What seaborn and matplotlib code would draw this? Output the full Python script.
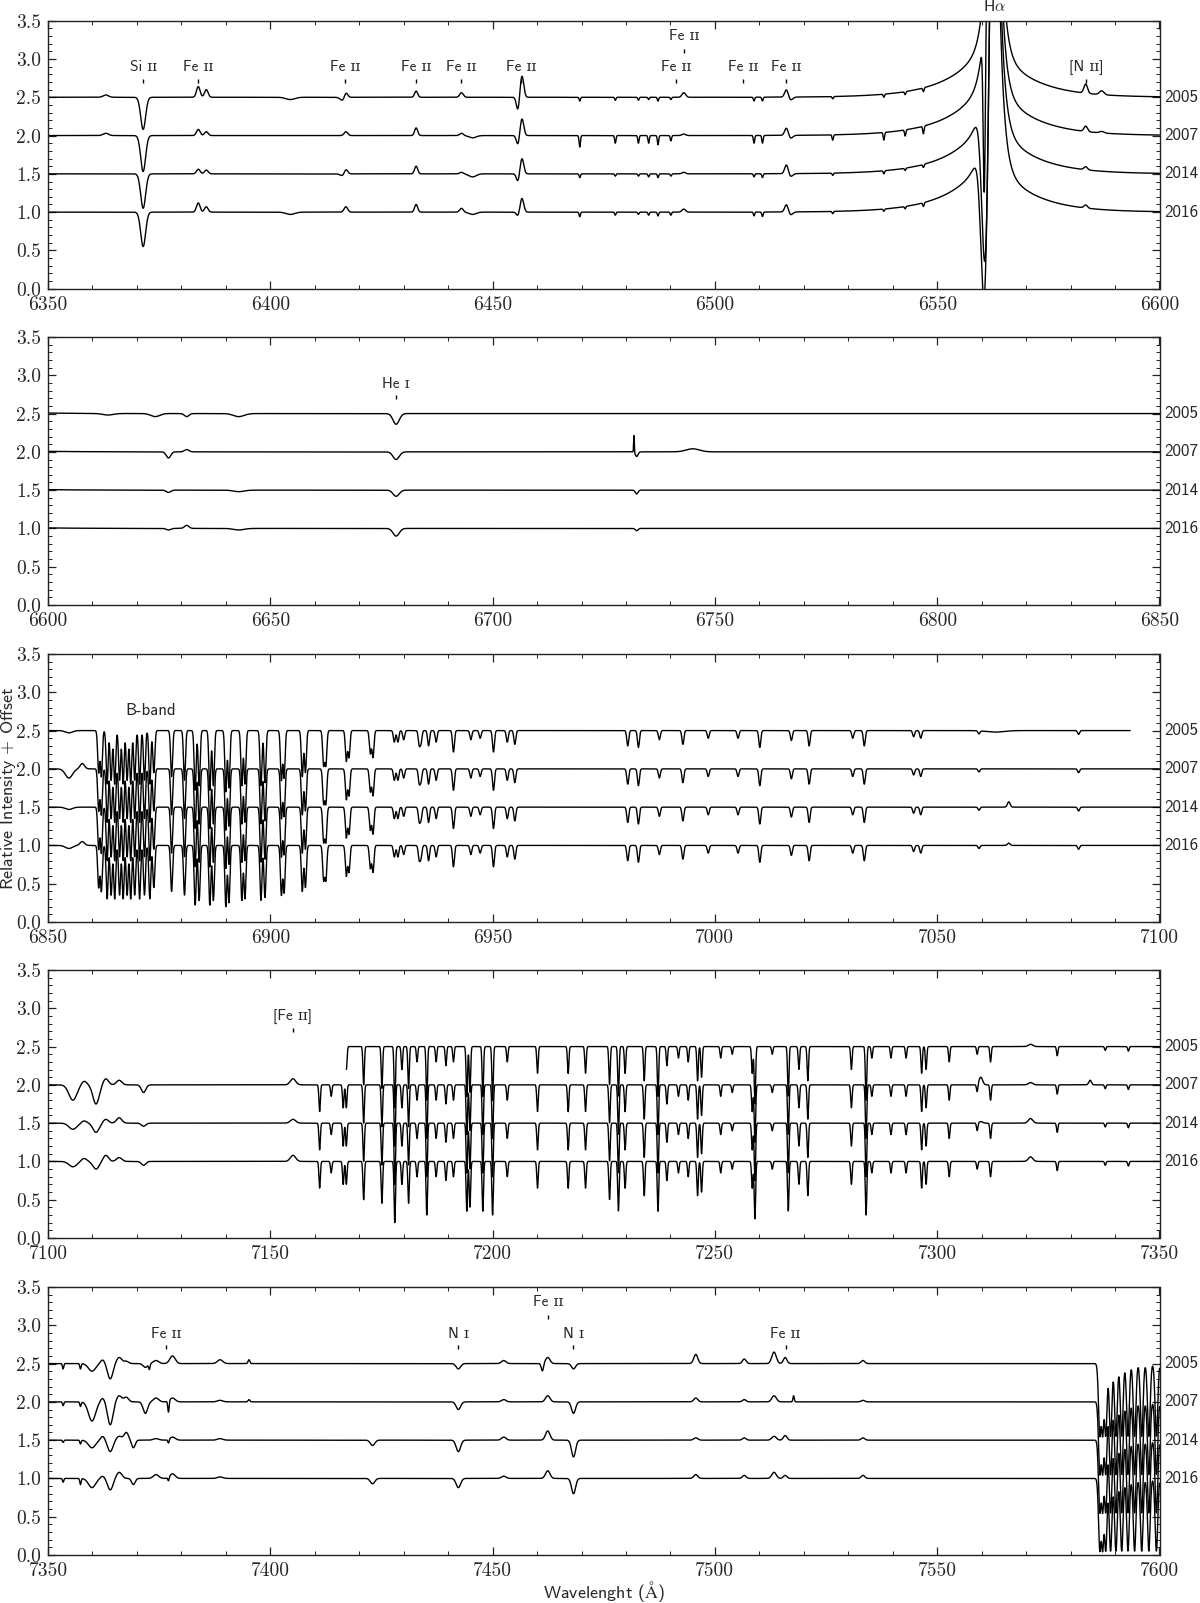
import numpy as np
import pandas as pd
import matplotlib
matplotlib.use("Agg")
import matplotlib.pyplot as plt
import matplotlib.transforms as mtransforms
from matplotlib.ticker import MultipleLocator, FormatStrFormatter
import seaborn as sns

YEARS = ["2005", "2007", "2014", "2016"]
OFFSETS = [2.5, 2.0, 1.5, 1.0]
PANEL_START = [6350, 6600, 6850, 7100, 7350]
PANEL_SPAN = 250
GAP_2005 = (7093.4, 7167.1)

# stellar / variable features: centre, sigma, amplitude per year (2005, 2007, 2014, 2016)
STAR_WL = [6363.0, 6371.4, 6383.8, 6385.6, 6404.5, 6416.4, 6417.0, 6432.8, 6443.0, 6445.5,
           6455.7, 6456.6, 6493.0, 6516.1, 6517.0, 6583.4, 6587.0,
           6469.6, 6477.6, 6482.8, 6485.1, 6487.2, 6490.1, 6508.8, 6510.7, 6526.5, 6538.0,
           6542.8, 6546.9,
           6613.5, 6624.1, 6627.1, 6631.2, 6642.9, 6678.3, 6731.8, 6732.4, 6745.0,
           6854.7, 6857.7, 7063.0, 7066.1,
           7105.6, 7108.1, 7110.8, 7113.0, 7116.0, 7121.5, 7155.1, 7309.8, 7321.0, 7334.4,
           7353.4, 7357.3, 7359.9, 7362.3, 7364.0, 7366.0, 7367.6, 7369.2, 7371.9, 7372.8,
           7374.3, 7377.1, 7378.0, 7388.7, 7395.2, 7423.0, 7442.3, 7452.5, 7461.2, 7462.4,
           7468.2, 7495.7, 7506.6, 7513.3, 7515.8, 7517.7, 7533.3]
STAR_SIGMA = [0.6, 0.55, 0.4, 0.4, 1.0, 0.6, 0.4, 0.35, 0.4, 0.8,
              0.35, 0.4, 0.4, 0.4, 0.5, 0.4, 0.5,
              0.15, 0.15, 0.15, 0.15, 0.15, 0.15, 0.15, 0.15, 0.15, 0.15,
              0.15, 0.15,
              1.2, 1.0, 0.5, 0.5, 1.2, 0.7, 0.08, 0.3, 1.5,
              0.8, 0.5, 2.0, 0.3,
              0.9, 0.6, 0.7, 0.6, 0.6, 0.5, 0.6, 0.4, 0.5, 0.3,
              0.15, 0.15, 0.8, 0.5, 0.6, 0.6, 0.5, 0.4, 0.5, 0.15,
              0.6, 0.15, 0.6, 0.6, 0.2, 0.5, 0.5, 0.5, 0.25, 0.5,
              0.45, 0.45, 0.4, 0.5, 0.4, 0.15, 0.4]
STAR_AMP = [[0.03, 0.03, 0.0, 0.0], [-0.42, -0.47, -0.45, -0.45], [0.14, 0.08, 0.06, 0.12],
            [0.10, 0.05, 0.05, 0.07], [-0.03, 0.0, 0.0, -0.03], [-0.05, 0.0, -0.03, 0.0],
            [0.08, 0.05, 0.07, 0.07], [0.08, 0.10, 0.10, 0.10], [0.06, 0.03, 0.02, 0.05],
            [0.0, -0.03, -0.04, -0.03], [-0.17, -0.12, -0.10, -0.05], [0.28, 0.22, 0.20, 0.18],
            [0.06, 0.02, 0.02, 0.04], [0.10, 0.10, 0.12, 0.10], [-0.04, -0.04, -0.04, -0.04],
            [0.12, 0.07, 0.04, 0.04], [0.05, 0.02, 0.0, 0.0],
            [-0.05, -0.15, -0.05, -0.06], [-0.04, -0.10, -0.03, -0.04], [-0.04, -0.10, -0.03, -0.03],
            [-0.03, -0.10, -0.04, -0.04], [-0.05, -0.12, -0.05, -0.05], [-0.03, -0.07, -0.03, -0.04],
            [-0.05, -0.10, -0.04, -0.05], [-0.05, -0.10, -0.05, -0.06], [-0.03, -0.07, -0.03, -0.03],
            [-0.04, -0.10, -0.04, -0.03], [-0.04, -0.08, -0.03, -0.03], [-0.05, -0.10, -0.04, -0.05],
            [-0.02, 0.0, 0.0, 0.0], [-0.04, 0.0, 0.0, 0.0], [0.0, -0.08, -0.03, -0.02],
            [-0.04, 0.03, 0.0, 0.04], [-0.04, 0.0, -0.02, -0.02], [-0.14, -0.10, -0.08, -0.10],
            [0.0, 0.22, 0.0, 0.0], [0.0, -0.06, -0.05, -0.03], [0.0, 0.04, 0.0, 0.0],
            [-0.03, -0.12, -0.03, -0.04], [0.0, 0.07, 0.0, 0.05], [-0.02, 0.0, 0.0, 0.0],
            [0.0, 0.0, 0.07, 0.03],
            [0.0, -0.20, -0.08, -0.07], [0.0, 0.05, 0.03, 0.04], [0.0, -0.25, -0.12, -0.10],
            [0.0, 0.08, 0.05, 0.08], [0.0, 0.06, 0.07, 0.05], [0.0, -0.10, -0.04, -0.05],
            [0.0, 0.08, 0.05, 0.08], [0.0, 0.10, 0.02, 0.0], [0.03, 0.03, 0.06, 0.06],
            [0.0, 0.06, 0.0, 0.0],
            [-0.07, -0.05, -0.03, -0.05], [-0.07, -0.06, -0.05, -0.08], [-0.10, -0.25, -0.10, -0.12],
            [0.05, 0.05, 0.05, 0.03], [-0.20, -0.30, -0.15, -0.15], [0.08, 0.08, 0.05, 0.08],
            [0.03, 0.06, 0.10, 0.0], [0.0, 0.0, -0.10, -0.08], [-0.05, -0.15, 0.0, 0.0],
            [-0.07, 0.0, 0.0, 0.0], [0.04, 0.05, 0.02, 0.05], [0.0, -0.15, -0.05, -0.05],
            [0.10, 0.05, 0.04, 0.06], [0.05, 0.02, 0.02, 0.02], [0.05, 0.03, 0.0, 0.0],
            [0.0, 0.0, -0.07, -0.07], [-0.07, -0.10, -0.15, -0.12], [0.04, 0.03, 0.04, 0.03],
            [-0.10, 0.0, 0.0, 0.0], [0.08, 0.08, 0.12, 0.10], [-0.07, -0.15, -0.22, -0.20],
            [0.12, 0.05, 0.03, 0.05], [0.06, 0.03, 0.03, 0.04], [0.15, 0.08, 0.05, 0.08],
            [0.08, 0.0, 0.06, 0.04], [0.0, 0.08, 0.0, 0.0], [0.04, 0.02, 0.03, 0.04]]

# H-alpha profile
HA_CENTER = 6562.8
HA_CORE = (8.0, 1.0)
HA_BLUE = (0.9, 8.0)
HA_RED = (0.7, 8.0)
HA_ABS_WL = [6561.0, 6560.6, 6560.9, 6560.7]
HA_ABS_SIGMA = [0.3, 0.25, 0.8, 0.8]
HA_ABS_DEPTH = [0.0, 2.3, 2.9, 2.7]

# telluric O2 B-band and nearby lines (relative depth)
BBAND_WL = [6861.4, 6862.0, 6863.3, 6864.2, 6865.0, 6866.1, 6866.9, 6867.8, 6868.6, 6869.5,
            6870.6, 6871.7, 6872.9, 6873.8, 6877.8, 6880.7, 6883.1, 6884.0, 6886.4, 6887.2,
            6890.0, 6890.7, 6893.6, 6894.3, 6897.9, 6898.8, 6902.5, 6903.1, 6907.2, 6907.9,
            6912.0, 6912.5, 6917.1, 6917.7, 6922.5, 6923.1, 6927.9, 6928.7, 6930.0, 6933.5,
            6933.9, 6935.6, 6937.3, 6941.2, 6945.1, 6947.2, 6950.2, 6953.3, 6955.0, 6980.4,
            6982.8, 6987.5, 6992.8, 6998.5, 7005.2, 7010.1, 7017.2, 7021.2, 7031.0, 7033.6,
            7044.7, 7046.3, 7059.4, 7081.8]
BBAND_DEPTH = [0.55, 0.6, 0.7, 0.65, 0.7, 0.65, 0.7, 0.65, 0.7, 0.65,
               0.7, 0.65, 0.7, 0.55, 0.6, 0.65, 0.78, 0.72, 0.78, 0.72,
               0.8, 0.75, 0.72, 0.7, 0.72, 0.68, 0.65, 0.62, 0.6, 0.55,
               0.45, 0.45, 0.4, 0.35, 0.3, 0.35, 0.15, 0.15, 0.12, 0.18,
               0.15, 0.2, 0.15, 0.28, 0.12, 0.1, 0.28, 0.15, 0.18, 0.2,
               0.22, 0.12, 0.18, 0.1, 0.1, 0.22, 0.13, 0.2, 0.1, 0.2,
               0.08, 0.1, 0.04, 0.05]

# telluric H2O band
H2O_WL = [7161.1, 7163.7, 7166.4, 7167.1, 7171.0, 7175.1, 7178.0, 7179.6, 7181.1, 7183.0,
          7185.2, 7187.3, 7189.5, 7191.2, 7194.2, 7194.9, 7197.8, 7200.0, 7203.3, 7210.1,
          7217.0, 7220.9, 7226.3, 7228.3, 7229.8, 7234.1, 7237.2, 7239.2, 7241.8, 7244.0,
          7246.1, 7247.0, 7251.3, 7253.9, 7258.4, 7259.0, 7262.9, 7266.5, 7268.9, 7270.9,
          7280.7, 7284.0, 7285.3, 7289.6, 7293.0, 7296.5, 7297.5, 7302.7, 7309.0, 7312.0,
          7327.0, 7337.8, 7343.0]
H2O_DEPTH = [0.35, 0.15, 0.3, 0.3, 0.5, 0.55, 0.8, 0.3, 0.55, 0.2,
             0.7, 0.2, 0.25, 0.2, 0.65, 0.6, 0.65, 0.7, 0.2, 0.35,
             0.35, 0.35, 0.5, 0.65, 0.35, 0.45, 0.65, 0.25, 0.15, 0.2,
             0.45, 0.4, 0.15, 0.1, 0.35, 0.75, 0.1, 0.65, 0.3, 0.45,
             0.3, 0.7, 0.15, 0.15, 0.15, 0.35, 0.3, 0.2, 0.1, 0.2,
             0.12, 0.05, 0.06]

# telluric O2 A-band head
ABAND_WL = [7586.6, 7587.2, 7587.9, 7589.0, 7590.2, 7591.5, 7592.9, 7594.4, 7596.0, 7597.6, 7599.3]
ABAND_DEPTH = [0.95, 0.95, 0.95, 0.95, 0.95, 0.95, 0.95, 0.95, 0.95, 0.95, 0.95]

TELL_SIGMA = {"B": 0.22, "H2O": 0.16, "A": 0.3}

# line identifications
LABEL_WL = [6371.4, 6383.8, 6416.9, 6432.8, 6443.0, 6456.4, 6491.3, 6493.0, 6506.3, 6516.0,
            6583.5, 6678.3, 7155.1, 7376.5, 7442.3, 7462.5, 7468.1, 7515.9]
LABEL_TEXT = ["Si ɪɪ", "Fe ɪɪ", "Fe ɪɪ", "Fe ɪɪ", "Fe ɪɪ", "Fe ɪɪ", "Fe ɪɪ", "Fe ɪɪ", "Fe ɪɪ",
              "Fe ɪɪ", "[N ɪɪ]", "He ɪ", "[Fe ɪɪ]", "Fe ɪɪ", "N ɪ", "Fe ɪɪ", "N ɪ", "Fe ɪɪ"]
LABEL_TIER = [0, 0, 0, 0, 0, 0, 0, 1, 0, 0, 0, 0, 0, 0, 0, 1, 0, 0]


def gauss(wl, c, s):
    return np.exp(-0.5 * ((wl - c) / s) ** 2)


def spectrum(wl, k):
    flux = np.ones_like(wl)
    for c, s, a in zip(STAR_WL, STAR_SIGMA, STAR_AMP):
        if a[k] != 0:
            flux += a[k] * gauss(wl, c, s)
    d = wl - HA_CENTER
    flux += HA_CORE[0] * np.exp(-np.abs(d) / HA_CORE[1])
    flux += np.where(d < 0, HA_BLUE[0] * np.exp(np.minimum(d, 0) / HA_BLUE[1]),
                     HA_RED[0] * np.exp(-np.maximum(d, 0) / HA_RED[1]))
    if HA_ABS_DEPTH[k] > 0:
        flux -= HA_ABS_DEPTH[k] * gauss(wl, HA_ABS_WL[k], HA_ABS_SIGMA[k])
    tell = np.ones_like(wl)
    for band, wls, deps in (("B", BBAND_WL, BBAND_DEPTH), ("H2O", H2O_WL, H2O_DEPTH),
                            ("A", ABAND_WL, ABAND_DEPTH)):
        for c, dep in zip(wls, deps):
            tell *= 1 - dep * gauss(wl, c, TELL_SIGMA[band])
    return OFFSETS[k] + flux * tell - 1


def main():
    sns.set_theme(style="ticks")
    plt.rcParams["font.family"] = ["cmss10", "DejaVu Serif"]
    plt.rcParams["mathtext.fontset"] = "cm"
    plt.rcParams["axes.unicode_minus"] = False
    plt.rcParams["axes.linewidth"] = 1.0
    plt.rcParams["axes.edgecolor"] = "#222222"

    fig = plt.figure(figsize=(12, 16.03), dpi=100)
    H = 1603.0
    tops = [20.7, 337, 654, 970, 1287]
    ph = 268.0
    axes = []
    for i, start in enumerate(PANEL_START):
        ax = fig.add_axes([48 / 1200, 1 - (tops[i] + ph) / H, 1111.5 / 1200, ph / H])
        axes.append(ax)
        wl = np.arange(start, start + PANEL_SPAN + 0.02, 0.04)
        frames = []
        for k, year in enumerate(YEARS):
            w = wl
            if year == "2005":
                w = wl[(wl <= GAP_2005[0]) | (wl >= GAP_2005[1])]
            frames.append(pd.DataFrame({"wl": w, "flux": spectrum(w, k), "year": year}))
        df = pd.concat(frames, ignore_index=True)
        sns.lineplot(data=df, x="wl", y="flux", units="year", estimator=None, sort=False,
                     color="black", lw=1.0, ax=ax, legend=False)

        ax.set_xlim(start, start + PANEL_SPAN)
        ax.set_ylim(0, 3.5)
        ax.xaxis.set_major_locator(MultipleLocator(50))
        ax.xaxis.set_minor_locator(MultipleLocator(10))
        ax.yaxis.set_major_locator(MultipleLocator(0.5))
        ax.yaxis.set_minor_locator(MultipleLocator(0.1))
        ax.xaxis.set_major_formatter(FormatStrFormatter("%d"))
        ax.yaxis.set_major_formatter(FormatStrFormatter("%.1f"))
        ax.tick_params(which="both", direction="in", top=True, right=True, color="#222222")
        ax.tick_params(which="major", length=6, width=0.9, labelsize=14, pad=5,
                       labelfontfamily="cmr10")
        ax.tick_params(which="minor", length=3, width=0.7)
        ax.set_xlabel("")
        ax.set_ylabel("")

        tr = mtransforms.blended_transform_factory(ax.transAxes, ax.transData)
        for year, off in zip(YEARS, OFFSETS):
            ax.text(1.004, off, year, transform=tr, ha="left", va="center", fontsize=12.3)

        for wlab, txt, tier in zip(LABEL_WL, LABEL_TEXT, LABEL_TIER):
            if start <= wlab < start + PANEL_SPAN:
                ytxt, ymark = (2.89, 2.71) if tier == 0 else (3.30, 3.11)
                ax.text(wlab, ytxt, txt, ha="center", va="center", fontsize=11)
                ax.plot([wlab], [ymark], marker="|", ms=3, mew=1.0, color="black")

    axes[0].text(HA_CENTER, 3.69, r"H$\alpha$", ha="center", va="center", fontsize=11.5,
                 clip_on=False)
    axes[2].text(6867.5, 2.76, "B-band", ha="left", va="center", fontsize=12)

    fig.text(9 / 1200, 1 - 788 / H, r"Relative Intensity $+$ Offset", rotation=90,
             ha="center", va="center", fontsize=13)
    fig.text(603.7 / 1200, 1 - 1591 / H, r"Wavelenght ($\mathrm{\AA}$)",
             ha="center", va="center", fontsize=13)

    fig.savefig("out.png", dpi=100)
    plt.close(fig)


if __name__ == "__main__":
    main()
